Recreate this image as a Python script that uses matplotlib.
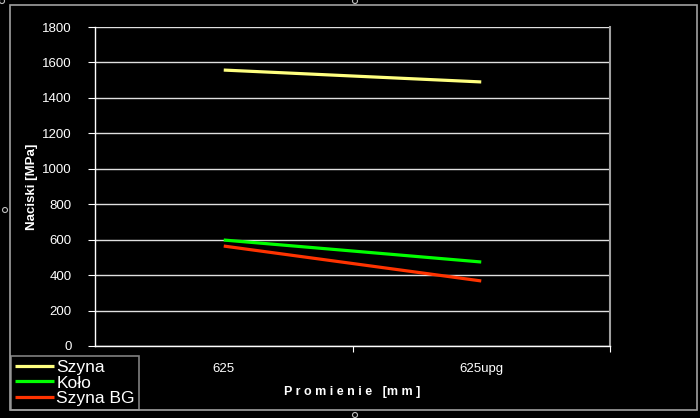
import matplotlib
matplotlib.use("Agg")
import matplotlib.pyplot as plt
from matplotlib.patches import Rectangle, Ellipse

# Dane
kategorie = ["625", "625upg"]
szyna = [1557, 1490]
kolo = [598, 474]
szyna_bg = [564, 367]

plt.rcParams['font.family'] = ['Liberation Sans', 'DejaVu Sans']

fig = plt.figure(figsize=(7.0, 4.18), dpi=100, facecolor='black')
# obszar wykresu (pixele: x 95..610, y 27..346)
ax = fig.add_axes([95/700, 1 - 346/418, (610-95)/700, (346-27)/418])
ax.set_facecolor('black')

x = [0.5, 1.5]
ax.plot(x, szyna, color='#ffff80', lw=2.3, label='Szyna', solid_capstyle='butt')
ax.plot(x, kolo, color='#00ff00', lw=2.3, label='Koło', solid_capstyle='butt')
ax.plot(x, szyna_bg, color='#ff3300', lw=2.3, label='Szyna BG', solid_capstyle='butt')

ax.set_xlim(0, 2)
ax.set_ylim(0, 1800)
ax.set_yticks(range(0, 1801, 200))
ax.yaxis.grid(True, color='#e0e0e0', lw=1.0)
ax.set_axisbelow(True)

# kreski na osi X na granicach kategorii, etykiety na srodku
ax.set_xticks([1, 2])
ax.set_xticklabels([])
ax.set_xticks(x, minor=True)
ax.set_xticklabels(kategorie, minor=True)
ax.tick_params(axis='x', which='minor', length=0, pad=12, colors='white', labelsize=9.5)
ax.tick_params(axis='x', which='major', length=4, color='white', direction='out')
ax.tick_params(axis='y', length=5, color='white', direction='out', colors='white',
               labelsize=9.5, pad=12)

for s in ['left', 'bottom']:
    ax.spines[s].set_color('white')
    ax.spines[s].set_linewidth(1.0)
ax.spines['top'].set_visible(False)
ax.spines['right'].set_color('#a0a0a0')
ax.spines['right'].set_linewidth(1.5)

ax.set_ylabel('Naciski [MPa]', color='white', fontsize=9.5, fontweight='bold', labelpad=3)
ax.set_xlabel('P r o m i e n i e   [m m ]', color='white', fontsize=9, fontweight='bold', labelpad=8)

# ramka całego wykresu
fig.patches.append(Rectangle((10/700, 8/418), (697-10)/700, (413-8)/418,
                             transform=fig.transFigure, fill=False,
                             edgecolor='#a0a0a0', lw=1.2))

leg = ax.legend(loc='lower left', bbox_to_anchor=(11/700, 8/418), bbox_transform=fig.transFigure,
                frameon=True, fancybox=False, fontsize=12.5, handlelength=2.2,
                handletextpad=0.15, labelspacing=0.0, borderpad=0.25, borderaxespad=0)
leg.get_frame().set_facecolor('black')
leg.get_frame().set_edgecolor('#a0a0a0')
leg.get_frame().set_linewidth(1.2)
for t in leg.get_texts():
    t.set_color('white')

# uchwyty zaznaczenia
for px, py in [(5, 210), (355, 1), (355, 415), (2, 1)]:
    fig.patches.append(Ellipse((px/700, 1 - py/418), 5/700, 5/418, transform=fig.transFigure,
                               fill=False, edgecolor='#c0c0c0', lw=0.8))

fig.savefig('out.png', dpi=100, facecolor='black')
